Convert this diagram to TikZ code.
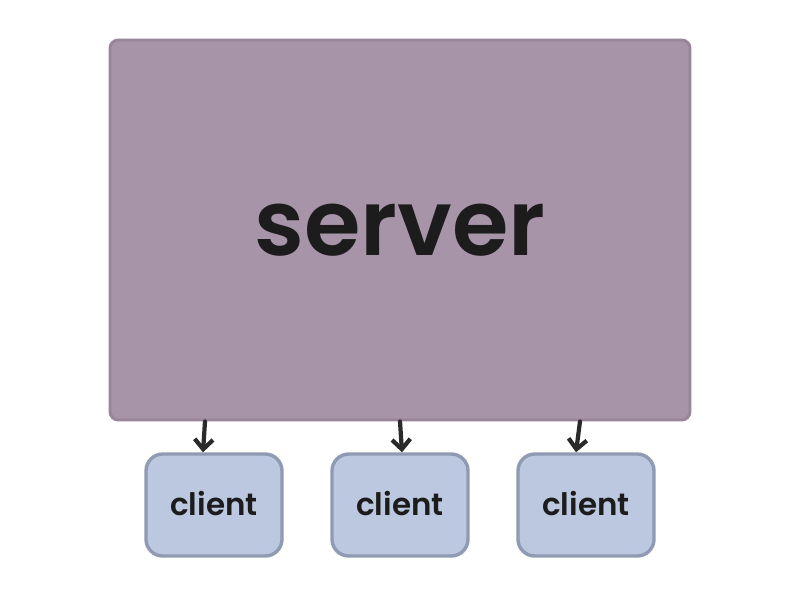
\documentclass[tikz,border=0pt]{standalone}
\usepackage{fontspec}
\setmainfont{Poppins}[BoldFont=*-SemiBold]
\usetikzlibrary{arrows.meta,positioning}
\definecolor{serverfill}{HTML}{A894A8}
\definecolor{serverline}{HTML}{988598}
\definecolor{clientfill}{HTML}{BCC8E0}
\definecolor{clientline}{HTML}{8F9BB2}
\definecolor{arrowink}{HTML}{2A2A2A}
\definecolor{labelink}{HTML}{1C1C1C}

\begin{document}
\begin{tikzpicture}[x=0.025cm, y=-0.025cm,
    serverbox/.style={draw=serverline, fill=serverfill, line width=2pt,
        rounded corners=6pt, minimum width=14.5cm, minimum height=9.5cm,
        inner sep=0pt, text=labelink, font=\fontsize{65}{78}\selectfont\bfseries},
    clientbox/.style={draw=clientline, fill=clientfill, line width=2.4pt,
        rounded corners=12pt, minimum width=3.4cm, minimum height=2.55cm,
        inner sep=0pt, text=labelink, font=\fontsize{22}{26}\selectfont\bfseries},
    push/.style={draw=arrowink, line width=3pt, line cap=round,
        -{Straight Barb[length=7pt, width=13pt, line width=3pt]}}]

    % canvas
    \useasboundingbox (0,0) rectangle (800,600);

    % Server
    \node[serverbox] (server) at (400,230) {server};

    % Clients
    \node[clientbox] (clientA) at (214,505) {\raisebox{3pt}{client}};
    \node[clientbox] (clientB) at (400,505) {\raisebox{3pt}{client}};
    \node[clientbox] (clientC) at (586,505) {\raisebox{3pt}{client}};

    % Arrows
    \draw[push] (server.south -| 205,0) -- (clientA.north -| 203,0);
    \draw[push] (server.south -| 400,0) -- (clientB.north -| 402,0);
    \draw[push] (server.south -| 580,0) -- (clientC.north -| 576,0);

\end{tikzpicture}
\end{document}
